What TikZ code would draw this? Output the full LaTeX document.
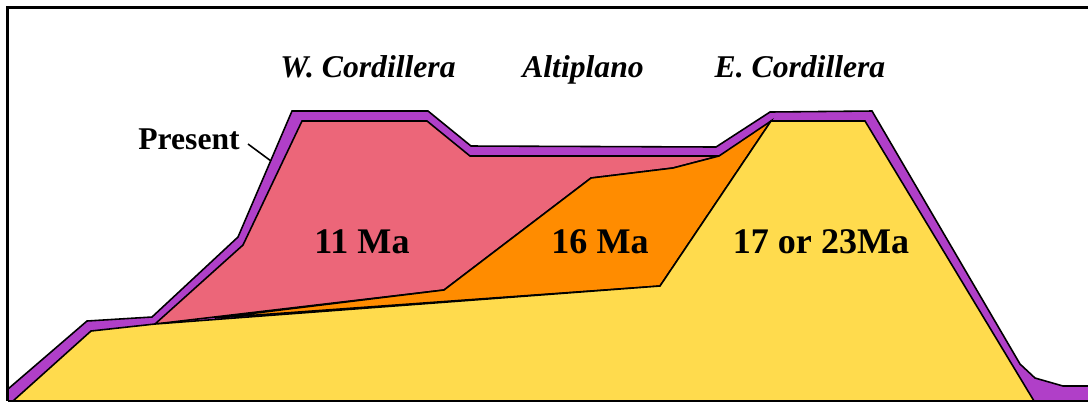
\documentclass[tikz,border=0pt]{standalone}
\usepackage{fontspec}
\setmainfont{Liberation Serif}
\usetikzlibrary{positioning}
\definecolor{crustpurple}{RGB}{176,63,200}
\definecolor{crustred}{RGB}{236,102,121}
\definecolor{crustorange}{RGB}{255,140,0}
\definecolor{crustyellow}{RGB}{255,219,77}
\tikzset{
  unit/.style={draw=black,line width=0.45pt,line join=miter},
  agelabel/.style={font=\bfseries\fontsize{10.25}{12}\selectfont,inner sep=0pt,anchor=base},
  rangelabel/.style={font=\bfseries\itshape\fontsize{9}{12}\selectfont,inner sep=0pt,anchor=base},
}
\begin{document}
\begin{tikzpicture}[x=0.01cm,y=-0.01cm]
\useasboundingbox (0,0) rectangle (1088,402);

% Present surface
\fill[crustpurple] (8,389) -- (87,321) -- (152,317) -- (238,237) -- (292,111) -- (428,111) -- (471,146) -- (716,147) -- (770,112) -- (872,111) -- (1020,364) -- (1035,378) -- (1063,386) -- (1088,386) -- (1088,401) -- (8,401) -- cycle;
\draw[unit] (8,389) -- (87,321) -- (152,317) -- (238,237) -- (292,111) -- (428,111) -- (471,146) -- (716,147) -- (770,112) -- (872,111) -- (1020,364) -- (1035,378) -- (1063,386) -- (1088,386);

% 11 Ma
\filldraw[unit,fill=crustred] (155,324) -- (243,245) -- (302,121) -- (427,121) -- (470,156) -- (719,156) -- (673,168) -- (591,178) -- (444,290) -- cycle;

% 16 Ma
\filldraw[unit,fill=crustorange] (215,318) -- (444,290) -- (591,178) -- (673,168) -- (719,156) -- (771,121) -- (660,286) -- cycle;

% 17 or 23 Ma
\filldraw[unit,fill=crustyellow] (13,401) -- (91,331) -- (155,324) -- (660,286) -- (771,121) -- (865,121) -- (1034,401) -- cycle;

% Frame
\draw[line width=0.6pt] (1088,7.5) -- (7.5,7.5) -- (7.5,401);
\draw[line width=0.4pt] (7.5,401) -- (1088,401);

% Range names
\node[rangelabel] (wcord) at (368,77) {W. Cordillera};
\node[rangelabel] (alti) at (583,77) {Altiplano};
\node[rangelabel] (ecord) at (800,77) {E. Cordillera};

% Ages
\node[agelabel] (age11) at (362,253) {11 Ma};
\node[agelabel] (age16) at (600,253) {16 Ma};
\node[agelabel] (age17) at (821,253) {17 or 23Ma};

% Leader to the surface
\node[font=\bfseries\fontsize{9}{11}\selectfont,inner sep=0pt,anchor=base] (present) at (189,149) {Present};
\coordinate (leadstart) at (248,144);
\coordinate (leadend) at (271,161);
\draw[line width=0.45pt] (leadstart) -- (leadend);
\end{tikzpicture}
\end{document}
